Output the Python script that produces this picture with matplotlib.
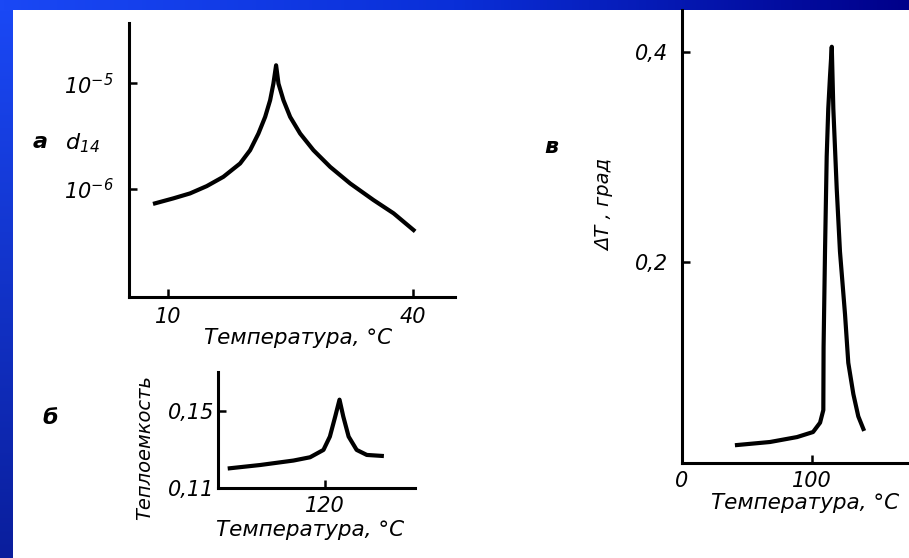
import numpy as np
import matplotlib
import matplotlib.pyplot as plt
from matplotlib.colors import LinearSegmentedColormap

matplotlib.use('Agg')

# panel a: piezo modulus d14 vs temperature (log scale)
a_temp = [8.41, 10.65, 12.69, 14.74, 16.77, 18.82, 20.04, 21.06, 21.88, 22.49, 22.89, 23.22,
          23.51, 24.12, 24.94, 26.16, 27.79, 29.84, 32.28, 35.14, 37.59, 40.03]
a_d14 = [7.33e-7, 8.17e-7, 9.10e-7, 1.067e-6, 1.306e-6, 1.747e-6, 2.33e-6, 3.35e-6, 4.81e-6, 6.92e-6, 9.93e-6, 1.48e-5,
         9.93e-6, 6.92e-6, 4.81e-6, 3.35e-6, 2.33e-6, 1.62e-6, 1.13e-6, 7.87e-7, 5.90e-7, 4.10e-7]
a_xticks = [10, 40]
a_yticks = [1e-5, 1e-6]
a_ylabels = [r"$10^{-5}$", r"$10^{-6}$"]

# panel b: heat capacity
b_temp = [102.2, 107.9, 114.1, 117.2, 119.7, 120.9, 121.9, 122.7, 123.4, 124.4, 125.9, 127.8, 130.6]
b_heat = [0.1202, 0.1219, 0.1242, 0.1259, 0.1297, 0.1366, 0.1470, 0.1557, 0.1470, 0.1366, 0.1297, 0.1271, 0.1266]
b_xticks = [120]
b_yticks = [0.11, 0.15]
b_ylabels = ["0,11", "0,15"]

# panel v: delta T
v_temp = [42.3, 67.7, 88.5, 100.8, 106.2, 108.7, 108.9, 110.0, 111.3, 112.5, 113.8, 115.2,
          116.4, 119.0, 121.5, 125.4, 127.9, 131.8, 135.6, 139.5]
v_dT = [0.0257, 0.0286, 0.0333, 0.0381, 0.0470, 0.059, 0.119, 0.210, 0.3006, 0.346, 0.376, 0.405,
        0.346, 0.270, 0.210, 0.150, 0.104, 0.0742, 0.0530, 0.041]
v_xticks = [0, 100]
v_yticks = [0.2, 0.4]
v_ylabels = ["0,2", "0,4"]

W, H = 909, 558
plt.rcParams['font.family'] = ['DejaVu Sans']
plt.rcParams['font.style'] = 'italic'
plt.rcParams['mathtext.fontset'] = 'dejavusans'
plt.rcParams['mathtext.default'] = 'it'

fig = plt.figure(figsize=(W / 100, H / 100), dpi=100, facecolor='white')


def px_axes(left, top, right, bottom):
    return fig.add_axes([left / W, 1 - bottom / H, (right - left) / W, (bottom - top) / H],
                        facecolor='none')


def fig_text(x, y, s, **kw):
    fig.text(x / W, 1 - y / H, s, ha='center', va='center', **kw)


# blue slide frame
bg = fig.add_axes([0, 0, 1, 1], zorder=-10)
bg.axis('off')
top_cmap = LinearSegmentedColormap.from_list('top', ['#1a48f5', '#0a2fd8', '#00008a'])
left_cmap = LinearSegmentedColormap.from_list('left', ['#1a48f5', '#0a1e9c'])
bg.imshow(np.linspace(0, 1, 256).reshape(1, -1), cmap=top_cmap, extent=(0, W, 10, 0), aspect='auto')
bg.imshow(np.linspace(0, 1, 256).reshape(-1, 1), cmap=left_cmap, extent=(0, 13, H, 10), aspect='auto')
bg.set_xlim(0, W)
bg.set_ylim(H, 0)


def style(ax):
    for s in ['top', 'right']:
        ax.spines[s].set_visible(False)
    for s in ['left', 'bottom']:
        ax.spines[s].set_linewidth(2.2)
    ax.tick_params(direction='in', length=6, width=1.8, labelsize=15)
    ax.minorticks_off()


# panel a
ax = px_axes(129, 23, 455, 297)
ax.plot(a_temp, a_d14, color='black', lw=3.0, solid_joinstyle='round')
ax.set_yscale('log')
ax.set_xlim(5.23, 45.1)
ax.set_ylim(10 ** -7.02, 10 ** -4.43)
style(ax)
ax.set_xticks(a_xticks)
ax.set_yticks(a_yticks)
ax.set_yticklabels(a_ylabels)
ax.minorticks_off()
ax.tick_params(axis='y', pad=11)
ax.tick_params(axis='x', pad=7)
fig_text(298, 338, "Температура, °С", fontsize=15.5)
fig_text(40, 142, "а", fontsize=16, fontweight='bold')
fig_text(82, 143, r"$d_{14}$", fontsize=16)

# panel b
ax = px_axes(218, 372, 415, 488)
ax.plot(b_temp, b_heat, color='black', lw=3.0, solid_joinstyle='round')
ax.set_xlim(100, 136.8)
ax.set_ylim(0.11, 0.170)
style(ax)
ax.set_xticks(b_xticks)
ax.set_xticklabels([str(t) for t in b_xticks])
ax.set_yticks(b_yticks)
ax.set_yticklabels(b_ylabels)
ax.tick_params(axis='y', pad=3)
ax.tick_params(axis='x', pad=6)
fig_text(310, 530, "Температура, °С", fontsize=15.5)
fig_text(145, 447, "Теплоемкость", fontsize=14, rotation=90)
fig_text(50, 418, "б", fontsize=16, fontweight='bold')

# panel v
ax = px_axes(682, 10, 909, 463)
ax.plot(v_temp, v_dT, color='black', lw=3.0, solid_joinstyle='round')
ax.set_xlim(0, 174.6)
ax.set_ylim(0.0086, 0.44)
style(ax)
ax.set_xticks(v_xticks)
ax.set_xticklabels([str(t) for t in v_xticks])
ax.set_yticks(v_yticks)
ax.set_yticklabels(v_ylabels)
ax.tick_params(axis='y', pad=10)
ax.tick_params(axis='x', pad=6)
fig_text(805, 503, "Температура, °С", fontsize=15.5)
fig_text(605, 205, "ΔT , град", fontsize=14, rotation=90)
fig_text(551, 147, "в", fontsize=16, fontweight='bold')

fig.savefig('out.png', dpi=100, facecolor='white')
